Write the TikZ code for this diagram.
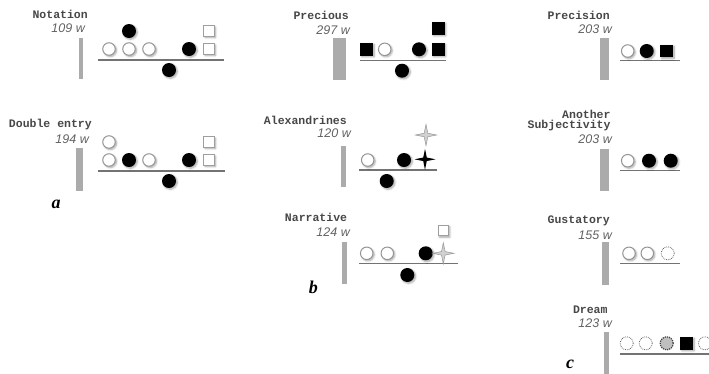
\documentclass[tikz,border=0pt]{standalone}
\usepackage{fontspec}
\setmainfont{Liberation Serif}
\setsansfont{Liberation Sans}
\setmonofont{Liberation Mono}
\usetikzlibrary{shapes.geometric,shadows.blur}

\tikzset{
  title/.style={font=\ttfamily\bfseries\fontsize{11.5}{11.5}\selectfont, text=black!72, anchor=east, inner sep=0pt, align=right},
  count/.style={font=\sffamily\itshape\fontsize{12.5}{12.5}\selectfont, text=black!62, anchor=east, inner sep=0pt},
  panel/.style={font=\rmfamily\bfseries\itshape\fontsize{18}{18}\selectfont, inner sep=0pt, anchor=base},
  bar/.style={fill=black!33, draw=none},
  base/.style={draw=black!55, line width=1.4pt},
  shade/.style={blur shadow={shadow blur steps=6, shadow xshift=1.3pt, shadow yshift=-1.3pt, shadow opacity=35, shadow blur radius=1.8pt}},
  open/.style={circle, minimum size=12.5pt, inner sep=0pt, draw=black!42, line width=1pt, fill=white, shade},
  full/.style={circle, minimum size=14pt, inner sep=0pt, fill=black, shade},
  osq/.style={rectangle, minimum size=10.5pt, inner sep=0pt, draw=black!38, line width=1pt, fill=white, shade},
  fsq/.style={rectangle, minimum size=12.5pt, inner sep=0pt, fill=black, shade},
  dotc/.style={circle, minimum size=13pt, inner sep=0pt, draw=black!60, densely dotted, line width=0.8pt, fill=white},
  greyc/.style={circle, minimum size=13pt, inner sep=0pt, draw=black!75, densely dotted, line width=1.2pt, fill=black!25},
  fstar/.style={star, star points=4, star point ratio=4.2, minimum size=21pt, inner sep=0pt, fill=black},
  gstar/.style={star, star points=4, star point ratio=4.2, minimum size=21pt, inner sep=0pt, fill=black!18, draw=black!38, line width=0.6pt},
}

\begin{document}
\begin{tikzpicture}[x=1pt, y=-1pt]
\useasboundingbox (0,0) rectangle (709,373);
\clip (0,0) rectangle (709,373);

% ---------- a: Notation ----------
\node[title] (t1) at (88,14) {Notation};
\node[count] (w1) at (85,28) {109 w};
\fill[bar] (78.7,38) rectangle (82.7,79);
\draw[base] (98,60) -- (224,60);
\node[open] (n1o1) at (109,49) {};
\node[open] (n1o2) at (129,49) {};
\node[open] (n1o3) at (149,49) {};
\node[full] (n1f1) at (129,31) {};
\node[full] (n1f2) at (189,49) {};
\node[full] (n1f3) at (169,70) {};
\node[osq] (n1s1) at (209,31) {};
\node[osq] (n1s2) at (209,49) {};

% ---------- a: Double entry ----------
\node[title] (t2) at (92,124.7) {Double entry};
\node[count] (w2) at (89,139.5) {194 w};
\fill[bar] (76,148) rectangle (83,191);
\draw[base] (98,171) -- (225,171);
\node[open] (n2o1) at (109,142) {};
\node[open] (n2o2) at (109,160) {};
\node[open] (n2o3) at (149,160) {};
\node[full] (n2f1) at (129,160) {};
\node[full] (n2f2) at (189,160) {};
\node[full] (n2f3) at (169,181) {};
\node[osq] (n2s1) at (209,142) {};
\node[osq] (n2s2) at (209,160) {};
\node[panel] (pa) at (56,208) {a};

% ---------- b: Precious ----------
\node[title] (t3) at (349,15.7) {Precious};
\node[count] (w3) at (350,30) {297 w};
\fill[bar] (333.3,38) rectangle (346,80);
\draw[base] (360,60.3) -- (446,60.3);
\node[fsq] (n3s1) at (366.7,49.3) {};
\node[open] (n3o1) at (384.7,49.3) {};
\node[full] (n3f1) at (419,49.3) {};
\node[fsq] (n3s2) at (438.3,49.3) {};
\node[fsq] (n3s3) at (438.3,28.3) {};
\node[full] (n3f2) at (402,70.7) {};

% ---------- b: Alexandrines ----------
\node[title] (t4) at (347,120.7) {Alexandrines};
\node[count] (w4) at (351,133.5) {120 w};
\fill[bar] (341,146) rectangle (346,187);
\draw[base] (359,170) -- (437,170);
\node[open] (n4o1) at (367.7,160) {};
\node[full] (n4f1) at (404,160) {};
\node[fstar] (n4x1) at (425,159.3) {};
\node[gstar] (n4x2) at (426,135) {};
\node[full] (n4f2) at (386.7,181) {};

% ---------- b: Narrative ----------
\node[title] (t5) at (347.3,217.7) {Narrative};
\node[count] (w5) at (350,232.3) {124 w};
\fill[bar] (341.7,241.7) rectangle (346.7,284);
\draw[base] (359,263.3) -- (458,263.3);
\node[open] (n5o1) at (366.7,253.3) {};
\node[open] (n5o2) at (387.3,253.3) {};
\node[full] (n5f1) at (425.7,253.3) {};
\node[gstar] (n5x1) at (443.3,253.3) {};
\node[osq] (n5s1) at (443.3,230.7) {};
\node[full] (n5f2) at (407.3,275) {};
\node[panel] (pb) at (313.3,293.5) {b};

% ---------- c: Precision ----------
\node[title] (t6) at (610,15) {Precision};
\node[count] (w6) at (612,29.3) {203 w};
\fill[bar] (600.3,37.7) rectangle (609,80);
\draw[base] (620,60.7) -- (680,60.7);
\node[open] (n6o1) at (627.7,51) {};
\node[full] (n6f1) at (646.7,51) {};
\node[fsq] (n6s1) at (666.7,51) {};

% ---------- c: Another Subjectivity ----------
\node[title] (t7) at (610.7,120.3) {Another\\[-1.2pt]Subjectivity};
\node[count] (w7) at (612,138.7) {203 w};
\fill[bar] (600,149.3) rectangle (609,190.7);
\draw[base] (620,170.7) -- (680,170.7);
\node[open] (n7o1) at (627.7,160.7) {};
\node[full] (n7f1) at (649,160.7) {};
\node[full] (n7f2) at (670.7,160.7) {};

% ---------- c: Gustatory ----------
\node[title] (t8) at (610,220.7) {Gustatory};
\node[count] (w8) at (612,235) {155 w};
\fill[bar] (602,242.3) rectangle (609,285);
\draw[base] (620,263.3) -- (680,263.3);
\node[open] (n8o1) at (629,253.3) {};
\node[open] (n8o2) at (647.3,253.3) {};
\node[dotc] (n8d1) at (667.7,253.3) {};

% ---------- c: Dream ----------
\node[title] (t9) at (607.7,309.3) {Dream};
\node[count] (w9) at (612,323.3) {123 w};
\fill[bar] (604,331.7) rectangle (608.7,376);
\draw[base] (620,354) -- (712,354);
\node[dotc] (n9d1) at (626.7,343.3) {};
\node[dotc] (n9d2) at (645.7,343.3) {};
\node[greyc] (n9g1) at (666.7,343.3) {};
\node[fsq] (n9s1) at (686.7,343.3) {};
\node[dotc] (n9d3) at (705,343.3) {};
\node[panel] (pc) at (570,368.5) {c};

\end{tikzpicture}
\end{document}
